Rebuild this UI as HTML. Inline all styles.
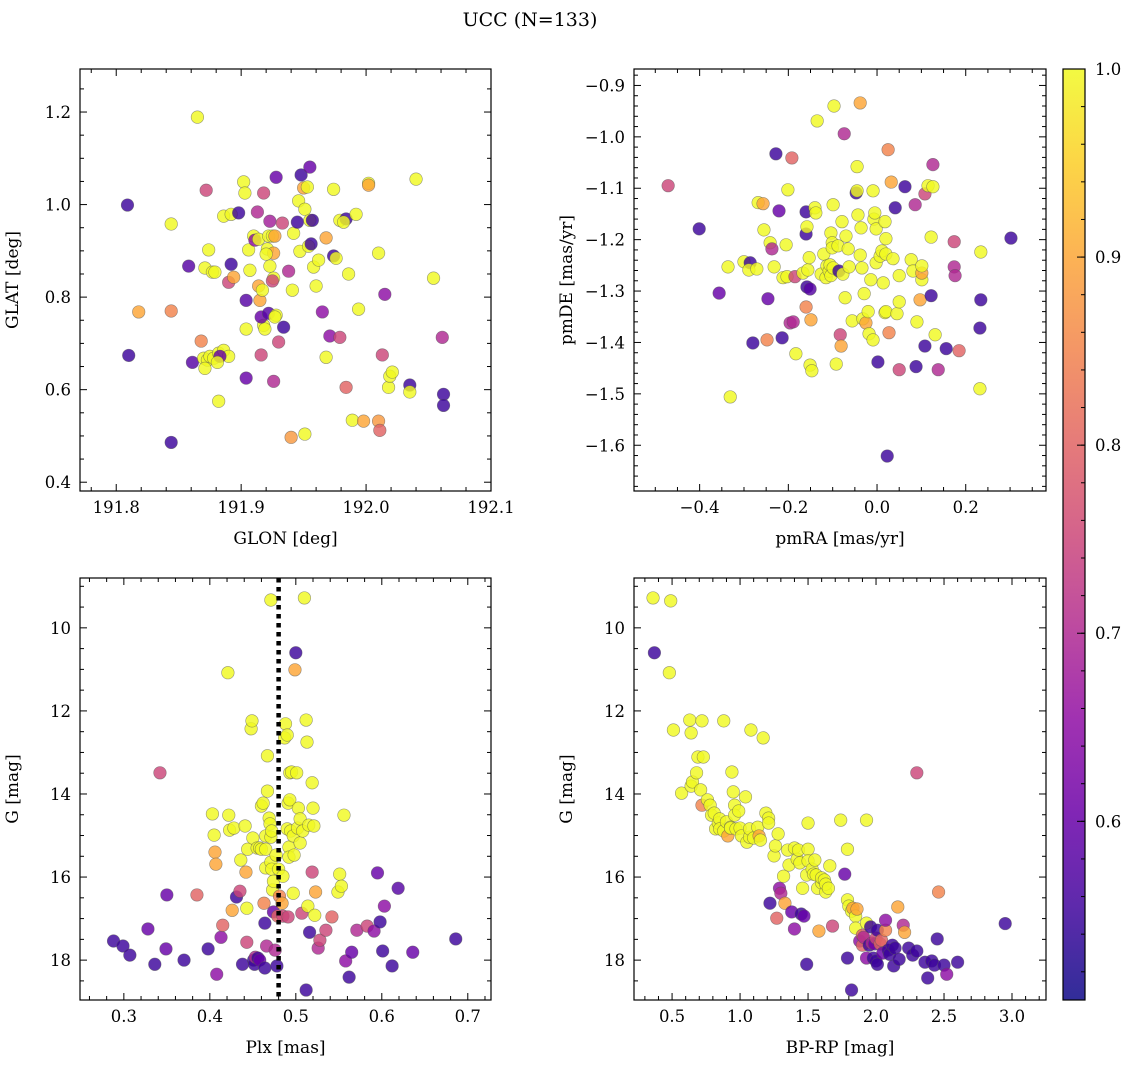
<!DOCTYPE html>
<html><head><meta charset="utf-8"><style>
body{margin:0;background:#fff;}
svg{display:block;font-family:"DejaVu Serif","Liberation Serif",serif;}
</style></head><body>
<svg id="fig" width="1136" height="1068" viewBox="0 0 1136 1068" xmlns="http://www.w3.org/2000/svg">
<text x="530" y="26" font-size="19" text-anchor="middle">UCC (N=133)</text>
</svg>
<script>
// ---------- data ----------
const glonGlat = [
[191.809,0.999,0.55],[191.810,0.674,0.55],[191.818,0.768,0.9],[191.844,0.770,0.85],[191.844,0.958,1.0],[191.844,0.486,0.55],
[191.858,0.867,0.58],[191.861,0.659,0.58],[191.865,1.189,1.0],[191.868,0.705,0.85],[191.871,0.863,1.0],[191.872,1.031,0.75],
[191.874,0.902,1.0],[191.870,0.668,1.0],[191.873,0.664,1.0],[191.875,0.672,1.0],[191.878,0.668,1.0],[191.882,0.679,1.0],
[191.886,0.685,1.0],[191.890,0.672,1.0],[191.883,0.672,0.6],[191.881,0.659,1.0],[191.871,0.646,1.0],[191.877,0.854,1.0],
[191.879,0.854,1.0],[191.882,0.575,1.0],[191.886,0.975,1.0],[191.892,0.979,1.0],[191.890,0.832,0.75],[191.894,0.843,0.9],
[191.892,0.871,0.55],[191.898,0.982,0.55],[191.902,1.049,1.0],[191.903,1.025,1.0],[191.906,0.902,1.0],[191.904,0.731,1.0],
[191.904,0.793,0.58],[191.904,0.625,0.6],[191.907,0.858,1.0],[191.910,0.932,1.0],[191.911,0.923,0.65],[191.913,0.984,0.7],
[191.914,0.824,0.9],[191.915,0.793,0.9],[191.917,0.815,1.0],[191.918,1.025,0.75],[191.916,0.675,0.75],[191.914,0.925,1.0],
[191.922,0.932,1.0],[191.921,0.904,1.0],[191.923,0.964,0.68],[191.925,0.932,1.0],[191.918,0.739,1.0],[191.919,0.731,1.0],
[191.916,0.757,0.6],[191.922,0.765,0.58],[191.928,0.761,1.0],[191.926,0.841,1.0],[191.925,0.835,0.75],[191.926,0.895,0.9],
[191.920,0.893,1.0],[191.923,0.867,1.0],[191.927,0.932,0.9],[191.927,0.757,1.0],[191.926,0.618,0.7],[191.930,0.703,0.75],
[191.928,1.059,0.6],[191.933,0.960,0.75],[191.934,0.735,0.55],[191.938,0.856,0.7],[191.941,0.815,1.0],[191.942,0.938,1.0],
[191.945,0.962,0.55],[191.946,1.008,1.0],[191.947,0.899,1.0],[191.948,1.064,0.55],[191.950,1.036,0.9],[191.951,0.504,1.0],
[191.953,1.038,1.0],[191.951,0.990,1.0],[191.954,0.910,1.0],[191.955,0.966,1.0],[191.957,0.966,0.55],[191.956,0.915,0.55],
[191.955,1.081,0.6],[191.958,0.865,1.0],[191.960,0.824,1.0],[191.962,0.880,1.0],[191.940,0.497,0.88],[191.965,0.768,0.65],
[191.968,0.670,1.0],[191.968,0.928,0.9],[191.971,0.716,0.65],[191.974,1.033,1.0],[191.974,0.889,0.55],[191.976,0.884,1.0],
[191.979,0.713,0.75],[191.984,0.605,0.8],[191.979,0.966,1.0],[191.984,0.969,0.55],[191.982,0.962,1.0],[191.986,0.850,1.0],
[191.989,0.534,1.0],[191.992,0.979,1.0],[191.994,0.774,1.0],[191.998,0.532,0.9],[192.002,1.046,1.0],[192.002,1.042,0.9],
[192.010,0.532,0.88],[192.010,0.895,1.0],[192.011,0.512,0.8],[192.013,0.675,0.75],[192.015,0.806,0.65],[192.018,0.605,1.0],
[192.019,0.629,1.0],[192.021,0.638,1.0],[192.035,0.610,0.55],[192.035,0.595,1.0],[192.040,1.055,1.0],[192.054,0.841,1.0],
[192.061,0.713,0.7],[192.062,0.590,0.55],[192.062,0.566,0.55]];
const pmraPmde = [
[-0.471,-1.095,0.75],[-0.401,-1.179,0.55],[-0.356,-1.304,0.6],[-0.336,-1.253,1.0],[-0.331,-1.506,1.0],[-0.300,-1.243,1.0],
[-0.286,-1.245,0.55],[-0.289,-1.259,1.0],[-0.280,-1.401,0.55],[-0.271,-1.257,1.0],[-0.268,-1.128,1.0],[-0.257,-1.130,0.9],
[-0.255,-1.181,1.0],[-0.248,-1.395,0.85],[-0.246,-1.315,0.6],[-0.241,-1.206,1.0],[-0.237,-1.218,0.7],[-0.232,-1.253,1.0],
[-0.228,-1.033,0.55],[-0.221,-1.144,0.6],[-0.214,-1.391,0.55],[-0.212,-1.274,1.0],[-0.205,-1.210,1.0],[-0.203,-1.272,1.0],
[-0.201,-1.103,1.0],[-0.196,-1.362,0.7],[-0.192,-1.041,0.8],[-0.189,-1.360,0.7],[-0.185,-1.272,0.75],[-0.183,-1.422,1.0],
[-0.167,-1.265,1.0],[-0.160,-1.331,0.85],[-0.160,-1.146,0.55],[-0.160,-1.189,0.55],[-0.158,-1.175,1.0],[-0.158,-1.292,0.55],
[-0.156,-1.259,1.0],[-0.153,-1.235,1.0],[-0.151,-1.444,1.0],[-0.151,-1.296,0.58],[-0.149,-1.356,0.9],[-0.147,-1.455,1.0],
[-0.140,-1.138,1.0],[-0.138,-1.148,1.0],[-0.135,-0.969,1.0],[-0.126,-1.267,1.0],[-0.120,-1.228,1.0],[-0.115,-1.274,1.0],
[-0.113,-1.251,1.0],[-0.108,-1.261,1.0],[-0.106,-1.249,1.0],[-0.104,-1.270,1.0],[-0.104,-1.187,1.0],[-0.101,-1.206,1.0],
[-0.101,-1.216,1.0],[-0.099,-1.255,1.0],[-0.099,-1.132,1.0],[-0.097,-0.940,1.0],[-0.092,-1.442,1.0],[-0.088,-1.212,1.0],
[-0.086,-1.261,0.55],[-0.083,-1.385,0.75],[-0.081,-1.407,0.9],[-0.079,-1.165,1.0],[-0.077,-1.267,1.0],[-0.074,-0.994,0.7],
[-0.072,-1.313,1.0],[-0.070,-1.193,1.0],[-0.065,-1.218,1.0],[-0.063,-1.253,1.0],[-0.056,-1.358,1.0],[-0.047,-1.109,0.55],
[-0.045,-1.058,1.0],[-0.045,-1.105,1.0],[-0.043,-1.152,1.0],[-0.038,-0.934,0.9],[-0.038,-1.230,1.0],[-0.036,-1.177,1.0],
[-0.034,-1.255,1.0],[-0.032,-1.354,1.0],[-0.029,-1.305,1.0],[-0.025,-1.362,0.9],[-0.020,-1.340,1.0],[-0.018,-1.383,1.0],
[-0.014,-1.278,1.0],[-0.009,-1.105,1.0],[-0.009,-1.395,1.0],[-0.007,-1.160,1.0],[-0.005,-1.148,1.0],[-0.002,-1.245,1.0],
[-0.002,-1.179,1.0],[0.002,-1.438,0.55],[0.007,-1.232,1.0],[0.011,-1.222,1.0],[0.014,-1.284,1.0],[0.018,-1.342,1.0],
[0.018,-1.165,1.0],[0.020,-1.340,1.0],[0.020,-1.198,1.0],[0.020,-1.228,1.0],[0.023,-1.621,0.55],[0.025,-1.025,0.85],
[0.027,-1.381,0.85],[0.032,-1.088,0.9],[0.036,-1.237,1.0],[0.041,-1.138,0.55],[0.045,-1.344,1.0],[0.050,-1.321,1.0],
[0.050,-1.453,0.75],[0.050,-1.270,1.0],[0.063,-1.097,0.55],[0.077,-1.239,1.0],[0.081,-1.261,1.0],[0.088,-1.447,0.55],
[0.086,-1.132,0.7],[0.090,-1.360,1.0],[0.101,-1.278,1.0],[0.101,-1.265,0.9],[0.101,-1.251,1.0],[0.097,-1.317,0.9],
[0.108,-1.407,0.55],[0.108,-1.111,0.75],[0.122,-1.309,0.55],[0.122,-1.195,1.0],[0.115,-1.095,1.0],[0.126,-1.097,1.0],
[0.126,-1.054,0.7],[0.131,-1.385,1.0],[0.138,-1.453,0.7],[0.156,-1.412,0.55],[0.174,-1.253,0.7],[0.176,-1.270,0.7],
[0.174,-1.204,0.75],[0.185,-1.416,0.8],[0.232,-1.372,0.55],[0.234,-1.224,1.0],[0.234,-1.317,0.55],[0.232,-1.490,1.0],
[0.302,-1.197,0.55]];
const plxG = [
[0.288,17.54,0.55],[0.299,17.66,0.55],[0.307,17.88,0.55],[0.328,17.25,0.6],[0.336,18.10,0.55],[0.342,13.49,0.75],[0.350,16.43,0.6],
[0.349,17.73,0.6],[0.370,18.00,0.55],[0.385,16.43,0.8],[0.398,17.73,0.55],[0.403,14.48,1.0],[0.405,14.99,1.0],[0.406,15.40,0.9],
[0.407,15.69,0.9],[0.408,18.34,0.65],[0.413,17.45,0.65],[0.415,17.16,0.8],[0.421,11.08,1.0],[0.422,14.51,1.0],[0.423,14.87,1.0],
[0.426,16.80,0.9],[0.428,14.82,1.0],[0.431,16.48,0.55],[0.435,16.34,0.75],[0.436,15.59,1.0],[0.438,18.10,0.55],[0.441,14.77,1.0],
[0.442,15.88,0.9],[0.443,17.57,0.75],[0.443,16.75,1.0],[0.444,15.33,1.0],[0.448,12.43,1.0],[0.449,12.24,1.0],[0.450,15.06,1.0],
[0.451,18.00,0.55],[0.452,18.10,0.55],[0.453,17.93,0.7],[0.455,15.30,1.0],[0.456,17.95,0.55],[0.458,15.30,1.0],[0.458,18.00,0.6],
[0.460,15.33,1.0],[0.460,14.29,1.0],[0.462,14.22,1.0],[0.463,16.63,0.85],[0.464,17.11,0.55],[0.464,18.19,0.55],[0.465,15.33,1.0],
[0.465,15.78,1.0],[0.465,15.01,1.0],[0.466,17.66,0.7],[0.467,13.08,1.0],[0.467,13.93,1.0],[0.469,14.58,1.0],[0.470,14.72,1.0],
[0.471,9.33,1.0],[0.471,15.04,1.0],[0.471,15.64,1.0],[0.472,14.89,1.0],[0.472,15.81,1.0],[0.473,16.31,1.0],[0.474,16.10,1.0],
[0.474,16.84,0.6],[0.476,17.76,0.7],[0.477,15.47,1.0],[0.478,18.14,0.55],[0.479,16.94,0.8],[0.480,15.81,1.0],[0.481,16.46,0.85],
[0.484,16.63,0.9],[0.485,16.94,0.75],[0.485,15.98,1.0],[0.487,12.65,1.0],[0.488,12.31,1.0],[0.490,12.58,1.0],[0.490,14.84,1.0],
[0.491,14.22,1.0],[0.491,16.96,0.75],[0.492,15.28,1.0],[0.492,15.52,1.0],[0.493,13.49,1.0],[0.493,14.14,1.0],[0.494,14.89,1.0],
[0.495,13.47,1.0],[0.497,15.01,1.0],[0.497,16.39,1.0],[0.498,15.47,1.0],[0.499,11.01,0.9],[0.500,10.60,0.55],[0.501,13.49,1.0],
[0.502,14.82,1.0],[0.503,14.34,1.0],[0.505,14.60,1.0],[0.505,15.18,1.0],[0.507,16.87,0.75],[0.508,14.89,1.0],[0.510,9.28,1.0],
[0.512,12.22,1.0],[0.512,18.72,0.55],[0.513,12.75,1.0],[0.514,16.70,1.0],[0.515,14.75,1.0],[0.516,17.33,0.55],[0.519,15.88,0.75],
[0.519,13.73,1.0],[0.520,14.34,1.0],[0.521,14.77,1.0],[0.522,16.92,1.0],[0.523,16.36,0.9],[0.526,17.71,0.7],[0.528,17.52,0.75],
[0.535,17.28,0.75],[0.542,16.96,0.8],[0.549,16.36,1.0],[0.551,15.93,1.0],[0.553,16.22,1.0],[0.556,14.51,1.0],[0.558,18.02,0.65],
[0.562,18.41,0.55],[0.565,17.81,0.6],[0.571,17.28,0.7],[0.583,17.18,0.75],[0.591,17.30,0.65],[0.595,15.90,0.6],[0.598,17.08,0.55],
[0.601,17.78,0.55],[0.603,16.70,0.65],[0.612,18.14,0.55],[0.619,16.27,0.58],[0.636,17.81,0.6],[0.686,17.49,0.55]];
const plxMean = 0.480;
const bprpG = [
[0.36,9.28,1.0],[0.37,10.60,0.55],[0.49,9.35,1.0],[0.48,11.08,1.0],[0.51,12.46,1.0],[0.57,13.98,1.0],[0.63,12.22,1.0],
[0.64,12.53,1.0],[0.64,13.81,1.0],[0.65,13.71,1.0],[0.68,13.49,1.0],[0.69,13.11,1.0],[0.71,13.90,1.0],[0.72,12.24,1.0],
[0.72,14.27,0.85],[0.73,13.11,1.0],[0.76,14.14,1.0],[0.78,14.27,1.0],[0.79,14.51,1.0],[0.81,14.46,1.0],[0.82,14.84,1.0],
[0.84,14.70,1.0],[0.85,14.60,1.0],[0.85,14.84,1.0],[0.88,14.89,1.0],[0.88,12.24,1.0],[0.90,14.67,1.0],[0.91,15.01,0.9],
[0.93,14.80,1.0],[0.93,14.82,1.0],[0.94,13.47,1.0],[0.95,13.95,1.0],[0.96,14.27,1.0],[0.96,14.51,1.0],[0.97,14.84,1.0],
[0.99,14.41,1.0],[1.00,14.82,1.0],[1.01,15.01,1.0],[1.04,14.07,1.0],[1.05,15.16,1.0],[1.07,15.04,1.0],[1.07,14.84,1.0],
[1.08,12.46,1.0],[1.10,15.06,1.0],[1.13,14.80,1.0],[1.14,15.01,0.9],[1.15,15.11,1.0],[1.17,12.65,1.0],[1.19,14.46,1.0],
[1.21,14.58,1.0],[1.21,14.70,1.0],[1.22,16.63,0.55],[1.25,15.49,1.0],[1.26,15.25,1.0],[1.27,16.99,0.8],[1.28,14.96,1.0],
[1.29,16.27,0.65],[1.30,16.39,0.7],[1.32,15.98,1.0],[1.33,16.63,0.9],[1.35,15.35,1.0],[1.36,15.71,1.0],[1.38,16.84,0.6],
[1.40,15.30,1.0],[1.40,17.25,0.65],[1.42,15.57,1.0],[1.43,15.35,1.0],[1.44,15.66,1.0],[1.45,16.89,0.55],[1.46,16.27,1.0],
[1.47,16.94,0.6],[1.49,15.95,1.0],[1.49,18.10,0.55],[1.50,14.70,1.0],[1.50,15.33,1.0],[1.50,15.61,1.0],[1.53,15.81,1.0],
[1.54,15.93,1.0],[1.55,15.59,1.0],[1.56,15.95,1.0],[1.57,16.27,1.0],[1.58,17.30,0.9],[1.60,16.14,1.0],[1.60,16.02,1.0],
[1.62,16.07,1.0],[1.63,16.36,1.0],[1.63,16.17,1.0],[1.65,16.27,1.0],[1.66,15.73,1.0],[1.68,17.18,0.75],[1.74,14.63,1.0],
[1.77,15.93,0.6],[1.79,17.95,0.55],[1.79,15.33,1.0],[1.79,16.55,1.0],[1.80,16.70,1.0],[1.82,18.72,0.55],[1.82,16.82,1.0],
[1.83,16.75,0.9],[1.85,16.94,1.0],[1.85,17.23,1.0],[1.86,16.77,0.9],[1.88,17.54,0.65],[1.90,17.64,0.8],[1.90,17.40,0.8],
[1.91,17.45,0.7],[1.93,17.11,1.0],[1.93,17.95,0.65],[1.93,14.63,1.0],[1.95,17.64,0.55],[1.96,17.20,0.55],[1.97,17.59,0.7],
[1.98,17.95,0.55],[1.99,17.61,0.6],[2.00,17.47,0.75],[2.00,18.02,0.55],[2.01,18.10,0.55],[2.01,17.28,0.55],[2.03,17.61,0.8],
[2.04,17.52,0.8],[2.05,17.83,0.6],[2.07,17.28,0.85],[2.07,17.04,0.65],[2.09,17.76,0.55],[2.10,17.86,0.55],[2.12,17.64,0.55],
[2.13,18.14,0.55],[2.14,17.71,0.55],[2.16,16.72,0.9],[2.17,17.98,0.55],[2.20,17.16,0.7],[2.21,17.33,0.9],[2.24,17.71,0.55],
[2.27,17.88,0.55],[2.30,17.78,0.55],[2.30,13.49,0.75],[2.36,18.05,0.55],[2.38,18.43,0.55],[2.41,18.02,0.55],[2.43,18.12,0.55],
[2.45,17.49,0.55],[2.46,16.36,0.85],[2.50,18.12,0.55],[2.52,18.34,0.65],[2.60,18.05,0.55],[2.95,17.12,0.55]];
const cbTicks = [0.6,0.7,0.8,0.9,1.0];
const cbMin = 0.505, cbMax = 1.0;

// ---------- helpers ----------
const NS = "http://www.w3.org/2000/svg";
const svg = document.getElementById('fig');
function mk(tag, attrs, parent){ const e=document.createElementNS(NS,tag); for(const k in attrs) e.setAttribute(k,attrs[k]); (parent||svg).appendChild(e); return e; }
const plasmaStops=[[0,"#0d0887"],[0.1,"#41049d"],[0.2,"#6a00a8"],[0.3,"#8f0da4"],[0.4,"#b12a90"],[0.5,"#cc4778"],[0.6,"#e16462"],[0.7,"#f2844b"],[0.8,"#fca636"],[0.9,"#fcce25"],[1,"#f0f921"]];
function hex2(c){return [1,3,5].map(i=>parseInt(c.substr(i,2),16));}
function plasma(t){ t=Math.max(0,Math.min(1,t)); for(let i=0;i<plasmaStops.length-1;i++){const [a,ca]=plasmaStops[i],[b,cb]=plasmaStops[i+1]; if(t<=b){const f=(t-a)/(b-a),A=hex2(ca),B=hex2(cb); return `rgb(${A.map((v,j)=>Math.round(v+(B[j]-v)*f)).join(',')})`;}} return "#f0f921"; }
function colorOf(p){ return plasma((p-cbMin)/(cbMax-cbMin)); }
function fmt(v,d){ return (Math.abs(v)<1e-9?0:v).toFixed(d).replace('-','\u2212'); }

function panel(cfg){
  const g = mk('g',{});
  
  
  const {L,T,R,B,x0,x1,y0,y1,invert}=cfg;
  const sx=v=>L+(v-x0)/(x1-x0)*(R-L);
  const sy=invert? v=>T+(v-y0)/(y1-y0)*(B-T) : v=>B-(v-y0)/(y1-y0)*(B-T);
  const pg=mk('g',{},g);
  
  
  for(const d of cfg.data){
    const c=mk('circle',{cx:sx(d[0]),cy:sy(d[1]),r:6.3,fill:colorOf(d[2]),'fill-opacity':0.82,stroke:'#555','stroke-opacity':0.6,'stroke-width':0.6},pg);
    
    
  }
  if(cfg.vline!==undefined){
    const l=mk('line',{x1:sx(cfg.vline),x2:sx(cfg.vline),y1:T,y2:B,stroke:'#000','stroke-width':4.5,'stroke-dasharray':'4.5,4.5'},g);
    
    
  }
  const tk=mk('g',{stroke:'#000','stroke-width':1},g);
  const eps=1e-9;
  for(let v=Math.ceil(x0/cfg.xmin-eps)*cfg.xmin; v<=x1+eps; v+=cfg.xmin){
    const isMaj=Math.abs(v/cfg.xmaj-Math.round(v/cfg.xmaj))<1e-6; const len=isMaj?7:4; const X=sx(v);
    mk('line',{x1:X,x2:X,y1:B,y2:B-len},tk); mk('line',{x1:X,x2:X,y1:T,y2:T+len},tk);
    if(isMaj){ const t=mk('text',{x:X,y:B+22,'font-size':16.5,'text-anchor':'middle',stroke:'none'},g); t.textContent=fmt(v,cfg.xd);
        }
  }
  for(let v=Math.ceil(y0/cfg.ymin-eps)*cfg.ymin; v<=y1+eps; v+=cfg.ymin){
    const isMaj=Math.abs(v/cfg.ymaj-Math.round(v/cfg.ymaj))<1e-6; const len=isMaj?7:4; const Y=sy(v);
    mk('line',{x1:L,x2:L+len,y1:Y,y2:Y},tk); mk('line',{x1:R,x2:R-len,y1:Y,y2:Y},tk);
    if(isMaj){ const t=mk('text',{x:L-9,y:Y+6,'font-size':16.5,'text-anchor':'end',stroke:'none'},g); t.textContent=fmt(v,cfg.yd);
        }
  }
  const fr=mk('rect',{x:L,y:T,width:R-L,height:B-T,fill:'none',stroke:'#000','stroke-width':1.2},g);
   
  const xl=mk('text',{x:(L+R)/2,y:B+53,'font-size':17,'text-anchor':'middle'},g); xl.textContent=cfg.xlabel;
   
  const yx=L-62, yy=(T+B)/2;
  const yl=mk('text',{x:yx,y:yy,'font-size':17,'text-anchor':'middle',transform:`rotate(-90 ${yx} ${yy})`},g); yl.textContent=cfg.ylabel;
   
}

panel({name:'glon-glat-panel',L:80,T:69,R:491,B:491,x0:191.771,x1:192.1,y0:0.381,y1:1.293,xmaj:0.1,xmin:0.02,ymaj:0.2,ymin:0.05,xd:1,yd:1,xlabel:'GLON [deg]',ylabel:'GLAT [deg]',data:glonGlat});
panel({name:'proper-motion-panel',L:634,T:69,R:1046,B:491,x0:-0.548,x1:0.381,y0:-1.689,y1:-0.868,xmaj:0.2,xmin:0.05,ymaj:0.1,ymin:0.02,xd:1,yd:1,xlabel:'pmRA [mas/yr]',ylabel:'pmDE [mas/yr]',data:pmraPmde});
panel({name:'plx-g-panel',L:80,T:578,R:491,B:1000,x0:0.249,x1:0.727,y0:8.80,y1:18.96,invert:true,xmaj:0.1,xmin:0.02,ymaj:2,ymin:0.5,xd:1,yd:0,xlabel:'Plx [mas]',ylabel:'G [mag]',data:plxG,vline:plxMean});
panel({name:'cmd-panel',L:634,T:578,R:1046,B:1000,x0:0.22,x1:3.25,y0:8.80,y1:18.96,invert:true,xmaj:0.5,xmin:0.1,ymaj:2,ymin:0.5,xd:1,yd:0,xlabel:'BP-RP [mag]',ylabel:'G [mag]',data:bprpG});

(function(){
  const L=1063,R=1085,T=69,B=1000;
  const defs=mk('defs',{}); const lg=mk('linearGradient',{id:'cbg',x1:0,y1:1,x2:0,y2:0},defs);
  for(let i=0;i<=20;i++){ const t=i/20; mk('stop',{offset:t,'stop-color':plasma(t),'stop-opacity':0.85},lg); }
  const g=mk('g',{});
   
  mk('rect',{x:L,y:T,width:R-L,height:B-T,fill:'url(#cbg)',stroke:'#000','stroke-width':1.2},g);
  const sy=v=>B-(v-cbMin)/(cbMax-cbMin)*(B-T);
  for(let v=0.52; v<=1.0001; v+=0.02){ mk('line',{x1:R,x2:R-4,y1:sy(v),y2:sy(v),stroke:'#000'},g); }
  for(const v of cbTicks){ const Y=sy(v); mk('line',{x1:R,x2:R-8,y1:Y,y2:Y,stroke:'#000'},g);
    const t=mk('text',{x:R+10,y:Y+6,'font-size':16.5},g); t.textContent=v.toFixed(1);
      }
})();
</script>
</body></html>
